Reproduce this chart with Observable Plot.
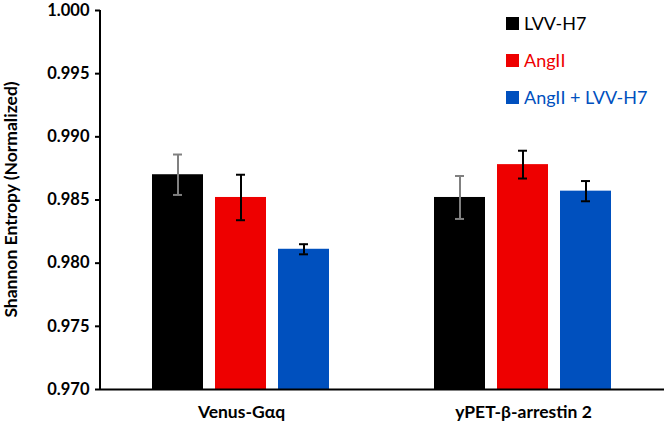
<!DOCTYPE html>
<html>
<head>
<meta charset="utf-8">
<script src="https://cdn.jsdelivr.net/npm/d3@7"></script>
<script src="https://cdn.jsdelivr.net/npm/@observablehq/plot@0.6"></script>
<style>
  html, body { margin: 0; padding: 0; background: #fff; }
  #wrap { position: relative; width: 665px; height: 423px; font-family: Lato, "Open Sans", sans-serif; }
  #legend { position: absolute; left: 506px; top: 13px; font-size: 18px; line-height: 21px; }
  #legend .row { display: flex; align-items: center; height: 21px; margin-bottom: 16px; }
  #legend .sw { width: 13px; height: 13px; margin-right: 5px; }
</style>
</head>
<body>
<div id="wrap"><div id="legend"></div></div>
<script>
const groups = ["Venus-Gαq", "yPET-β-arrestin 2"];
const series = ["LVV-H7", "AngII", "AngII + LVV-H7"];
const colors = ["#000000", "#EE0000", "#0050BE"];
const errColors = ["#808080", "#000000", "#000000"];
const means = [
  [0.9870, 0.9852, 0.9811],
  [0.9852, 0.9878, 0.9857]
];
const errs = [
  [0.0016, 0.0018, 0.0004],
  [0.0017, 0.0011, 0.0008]
];
const yTicks = [0.970, 0.975, 0.980, 0.985, 0.990, 0.995, 1.000];

const data = [];
groups.forEach((g, gi) => series.forEach((s, si) => data.push({
  group: g, series: s, value: means[gi][si], err: errs[gi][si], ec: errColors[si]
})));

const chart = Plot.plot({
  width: 665,
  height: 423,
  marginLeft: 100,
  marginRight: 1,
  marginTop: 10,
  marginBottom: 34,
  style: { fontFamily: "Lato, 'Open Sans', sans-serif", background: "#fff", overflow: "visible" },
  fx: { domain: groups, padding: 0, label: null, axis: null },
  x: { domain: series, axis: null, paddingInner: 0.19, paddingOuter: 0.833 },
  y: { domain: [0.970, 1.000], ticks: yTicks, tickFormat: d3.format(".3f"), label: null, clamp: true },
  color: { domain: series, range: colors },
  marks: [
    Plot.barY(data, { fx: "group", x: "series", y1: 0.970, y2: "value", fill: "series" }),
    Plot.ruleX(data, { fx: "group", x: "series", y1: d => d.value - d.err, y2: d => d.value + d.err, stroke: "ec", strokeWidth: 2 }),
    Plot.tickY(data, { fx: "group", x: "series", y: d => d.value + d.err, stroke: "ec", strokeWidth: 2, insetLeft: 21, insetRight: 21 }),
    Plot.tickY(data, { fx: "group", x: "series", y: d => d.value - d.err, stroke: "ec", strokeWidth: 2, insetLeft: 21, insetRight: 21 }),
    Plot.axisY({ ticks: yTicks, tickFormat: d3.format(".3f"), tickSize: 5, tickPadding: 6, fontSize: 16.5, fontWeight: "bold", fill: "#000", stroke: "#000", strokeWidth: 2, label: null }),
    Plot.axisFx({ anchor: "bottom", tickSize: 0, tickPadding: 16, fontSize: 17.5, fontWeight: "bold", fill: "#000", label: null }),
    Plot.ruleY([0.970], { stroke: "#000", strokeWidth: 2 })
  ]
});

const wrap = document.getElementById("wrap");
wrap.insertBefore(chart, wrap.firstChild);

const svg = d3.select(chart);
const ys = chart.scale("y");
// y-axis line
svg.append("line")
  .attr("x1", 100).attr("x2", 100)
  .attr("y1", ys.apply(1.000)).attr("y2", ys.apply(0.970) + 1)
  .attr("stroke", "#000").attr("stroke-width", 2);
// y-axis title
svg.append("text")
  .attr("transform", `translate(13, ${(ys.apply(1.0) + ys.apply(0.97)) / 2}) rotate(-90)`)
  .attr("text-anchor", "middle")
  .attr("dominant-baseline", "middle")
  .attr("font-size", 17.5)
  .attr("font-weight", "bold")
  .attr("fill", "#000")
  .text("Shannon Entropy (Normalized)");

const legend = document.getElementById("legend");
series.forEach((s, i) => {
  const row = document.createElement("div");
  row.className = "row";
  row.innerHTML = `<div class="sw" style="background:${colors[i]}"></div><span style="color:${colors[i]}">${s}</span>`;
  legend.appendChild(row);
});
</script>
</body>
</html>
